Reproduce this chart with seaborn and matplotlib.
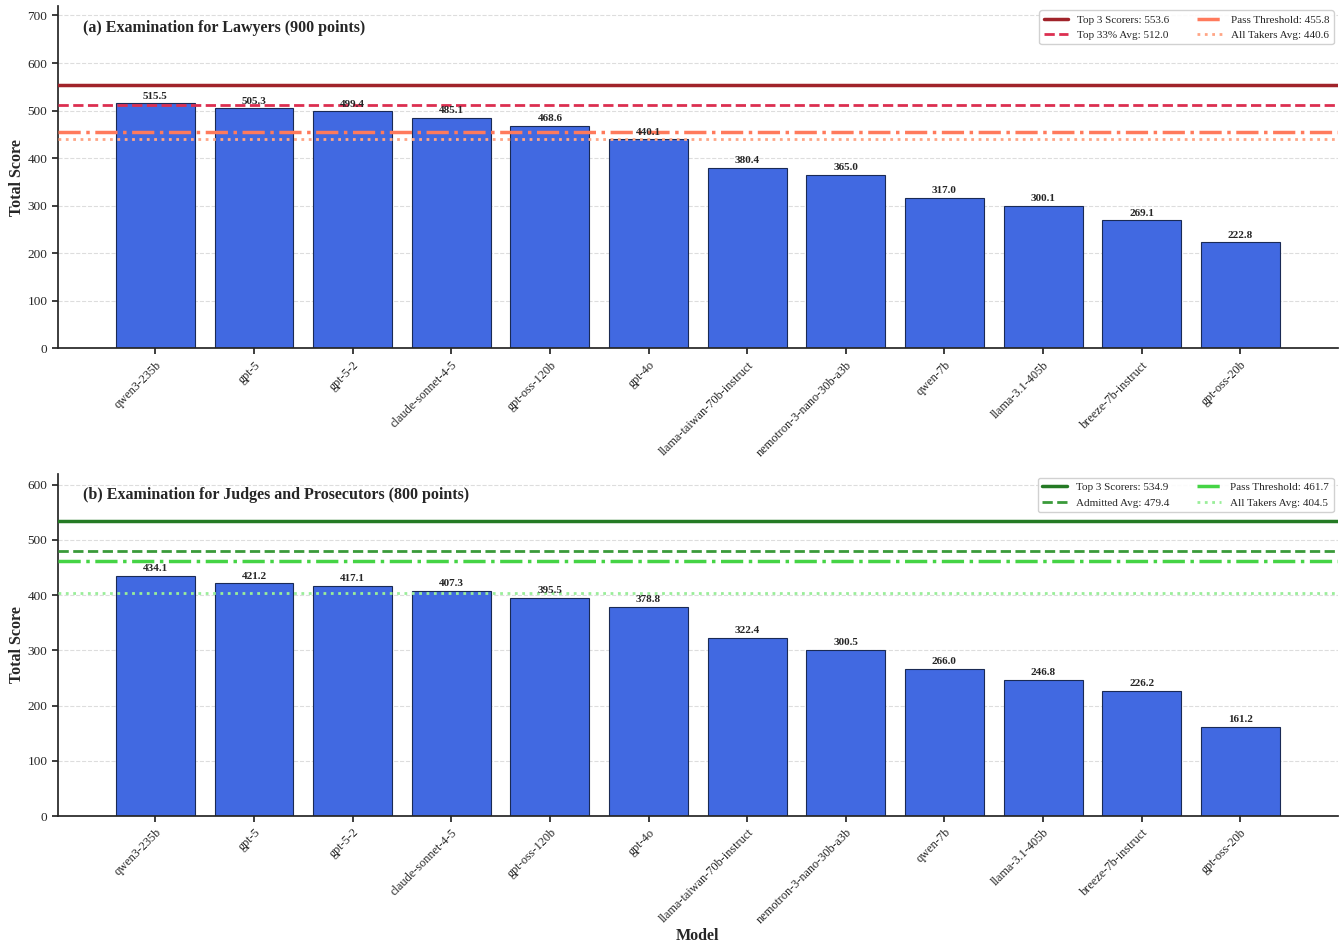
import matplotlib
matplotlib.use("Agg")
import matplotlib.pyplot as plt
import seaborn as sns
import pandas as pd

models = ["qwen3-235b", "gpt-5", "gpt-5-2", "claude-sonnet-4-5", "gpt-oss-120b", "gpt-4o",
          "llama-taiwan-70b-instruct", "nemotron-3-nano-30b-a3b", "qwen-7b", "llama-3.1-405b",
          "breeze-7b-instruct", "gpt-oss-20b"]
lawyer_scores = [515.5, 505.3, 499.4, 485.1, 468.6, 440.1, 380.4, 365.0, 317.0, 300.1, 269.1, 222.8]
judge_scores = [434.1, 421.2, 417.1, 407.3, 395.5, 378.8, 322.4, 300.5, 266.0, 246.8, 226.2, 161.2]

lawyer_refs = [("Top 3 Scorers", 553.6), ("Top 33% Avg", 512.0),
               ("Pass Threshold", 455.8), ("All Takers Avg", 440.6)]
judge_refs = [("Top 3 Scorers", 534.9), ("Admitted Avg", 479.4),
              ("Pass Threshold", 461.7), ("All Takers Avg", 404.5)]

titles = ["(a) Examination for Lawyers (900 points)",
          "(b) Examination for Judges and Prosecutors (800 points)"]

sns.set_theme(style="white")
plt.rcParams['font.family'] = ['Liberation Serif', 'DejaVu Serif']

fig, axes = plt.subplots(2, 1, figsize=(13.42, 9.47), dpi=100)
fig.subplots_adjust(left=0.043, right=0.997, top=0.9937, bottom=0.1383, hspace=0.365)

styles = ["-", "--", "-.", ":"]
widths = [2.5, 2.0, 2.5, 2.0]
red_cols = ["#a0232a", "#dc2f50", "#ff7a5c", "#ffa585"]
green_cols = ["#247a24", "#3a9a3a", "#45d445", "#99ee99"]
ylims = [720, 620]

for ax, scores, refs, cols, title, ylim, is_last in zip(
        axes, [lawyer_scores, judge_scores], [lawyer_refs, judge_refs],
        [red_cols, green_cols], titles, ylims, [False, True]):
    df = pd.DataFrame({"Model": models, "Score": scores})
    sns.barplot(data=df, x="Model", y="Score", ax=ax, color="#4169e1", saturation=1,
                edgecolor="#1a2a55", linewidth=0.8, width=0.8, zorder=2)
    for (name, val), c, ls, lw in zip(refs, cols, styles, widths):
        ax.axhline(val, color=c, linestyle=ls, linewidth=lw, zorder=3,
                   label=f"{name}: {val:.1f}")
    for i, v in enumerate(scores):
        ax.text(i, v + 5, f"{v:.1f}", ha="center", va="bottom", fontsize=8,
                fontweight="bold", zorder=4)
    ax.set_ylim(0, ylim)
    ax.set_xlim(-0.99, len(models) - 0.01)
    ax.yaxis.grid(True, linestyle="--", color="#dddddd", linewidth=0.8, zorder=0)
    ax.set_axisbelow(True)
    ax.set_ylabel("Total Score", fontsize=11.5, fontweight="bold")
    ax.yaxis.set_label_coords(-0.032, 0.5)
    ax.yaxis.label.set_va("center")
    ax.set_xlabel("Model" if is_last else "", fontsize=11.5, fontweight="bold")
    ax.xaxis.set_label_coords(0.5, -0.35)
    ax.xaxis.label.set_va("center")
    ax.tick_params(axis="x", rotation=45, labelsize=8.8, bottom=True, length=4)
    ax.tick_params(axis="y", labelsize=9.5, left=True, length=4)
    for lab in ax.get_xticklabels():
        lab.set_ha("right")
        lab.set_rotation_mode("anchor")
    sns.despine(ax=ax)
    ax.text(0.02, 0.936, title, transform=ax.transAxes, fontsize=11.5, fontweight="bold",
            va="center", ha="left")
    ax.legend(loc="upper right", ncol=2, fontsize=8, frameon=True, framealpha=0.9,
              edgecolor="#cccccc", handlelength=2.2, columnspacing=2.5,
              borderaxespad=0.4)

fig.savefig("out.png", dpi=100)
